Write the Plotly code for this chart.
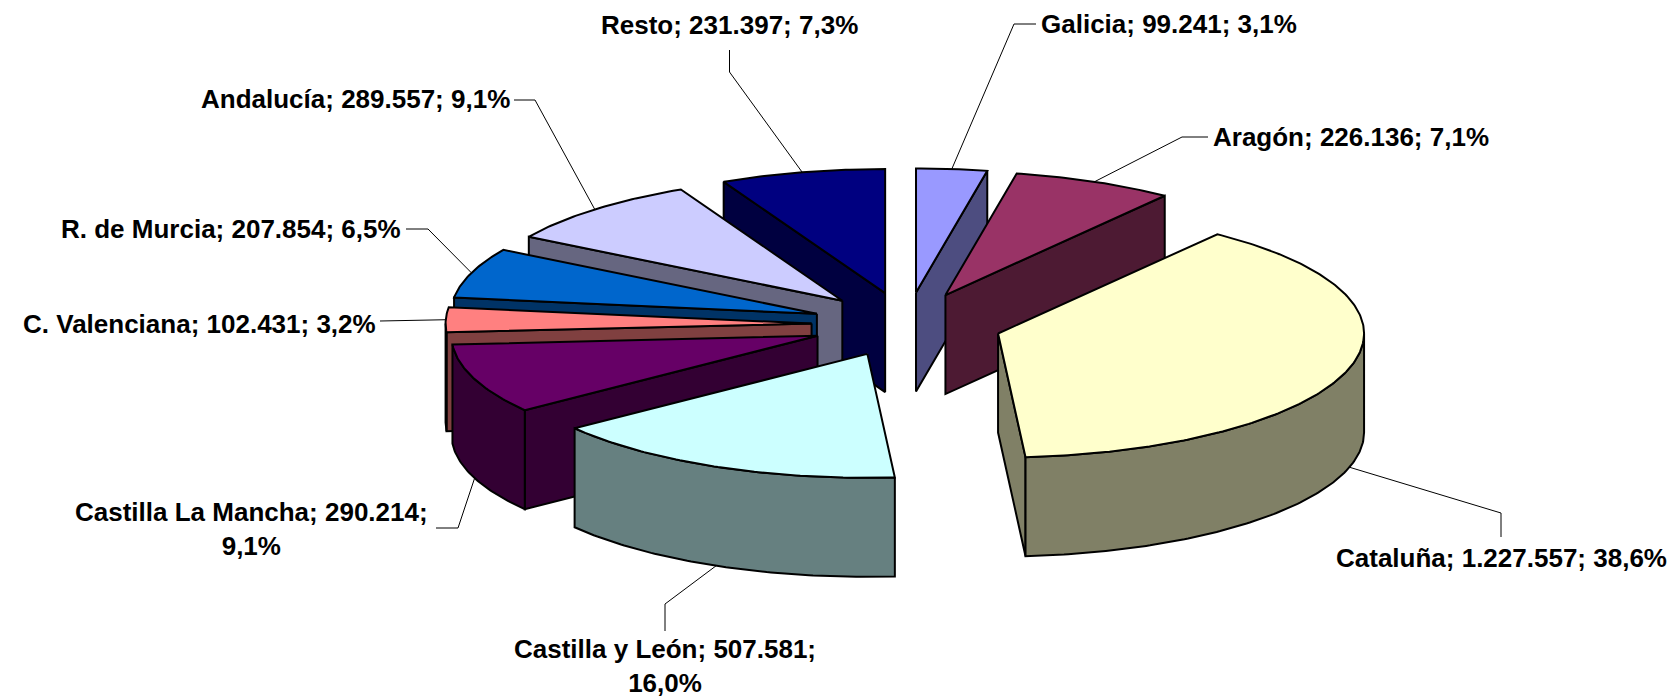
import numpy as np
import plotly.graph_objects as go

# ---------------- data ----------------
regions = ["Galicia", "Aragón", "Cataluña", "Castilla y León", "Castilla La Mancha",
           "C. Valenciana", "R. de Murcia", "Andalucía", "Resto"]
values = [99241, 226136, 1227557, 507581, 290214, 102431, 207854, 289557, 231397]
wrap_label = [False, False, False, True, True, False, False, False, False]

# ---------------- style ----------------
top_colors = ["#9999FF", "#993366", "#FFFFCC", "#CCFFFF", "#660066",
              "#FF8080", "#0066CC", "#CCCCFF", "#000080"]
side_colors = ["#4D4D80", "#4D1A33", "#808066", "#668080", "#330033",
               "#804040", "#003366", "#666680", "#000040"]

W, H = 1677, 698
CX, CY = 906.7, 324.5      # pie centre (px)
RX, RY = 366.0, 124.0      # ellipse radii (px)
DEPTH = 99.0               # thickness (px)
EXPLODE = 0.26             # fraction of radius
FONT = dict(family="Liberation Sans, Arial, sans-serif", size=26, color="black")

# label layout: text x, text y, xanchor, elbow point, end point (towards text)
label_layout = [
    (1039, 24, "left", (1014, 24), (1036, 24)),
    (1211, 137, "left", (1182, 137), (1208, 137)),
    (1501, 558, "center", (1501, 513), (1501, 537)),
    (665, 666, "center", (665, 604), (665, 631)),
    (251, 529, "center", (458, 528), (436, 528)),
    (378, 324, "right", (402, 321), (380, 321)),
    (403, 229, "right", (428, 229), (406, 229)),
    (512, 99, "right", (535, 100), (514, 100)),
    (729, 25, "center", (729.5, 72), (729.5, 50)),
]

total = sum(values)
fracs = [v / total for v in values]
cum = np.concatenate([[0], np.cumsum(fracs)]) * 360.0


def rim(theta, ox, oy, dz=0.0):
    t = np.radians(theta)
    return ox + RX * np.sin(t), oy - RY * np.cos(t) + dz


def arc(a, b, ox, oy, dz=0.0):
    n = max(int(abs(b - a) * 1.5), 4)
    th = np.linspace(a, b, n)
    x, y = rim(th, ox, oy, dz)
    return list(x), list(y)


fig = go.Figure()


def poly(xs, ys, color):
    fig.add_trace(go.Scatter(x=xs + [xs[0]], y=ys + [ys[0]], mode="lines",
                             fill="toself", fillcolor=color,
                             line=dict(color="black", width=2),
                             hoverinfo="skip", showlegend=False))


slices = []
for i in range(len(values)):
    a, b = cum[i], cum[i + 1]
    m = (a + b) / 2
    ox = CX + EXPLODE * RX * np.sin(np.radians(m))
    oy = CY - EXPLODE * RY * np.cos(np.radians(m))
    slices.append((i, a, b, m, ox, oy))

order = sorted(slices, key=lambda s: -np.cos(np.radians(s[3])))

for i, a, b, m, ox, oy in order:
    side = side_colors[i]
    # radial start wall
    if np.sin(np.radians(a)) < -1e-6:
        rx_, ry_ = rim(a, ox, oy)
        poly([ox, rx_, rx_, ox], [oy, ry_, ry_ + DEPTH, oy + DEPTH], side)
    # radial end wall
    if np.sin(np.radians(b)) > 1e-6:
        rx_, ry_ = rim(b, ox, oy)
        poly([ox, rx_, rx_, ox], [oy, ry_, ry_ + DEPTH, oy + DEPTH], side)
    # curved outer wall (front half)
    lo, hi = max(a, 90.0), min(b, 270.0)
    if hi > lo:
        tx, ty = arc(lo, hi, ox, oy)
        bx, by = arc(hi, lo, ox, oy, DEPTH)
        poly(tx + bx, ty + by, side)
    # top face
    tx, ty = arc(a, b, ox, oy)
    poly([ox] + tx, [oy] + ty, top_colors[i])

# labels and leader lines
for i, a, b, m, ox, oy in slices:
    front = 90 < m < 270
    ax_, ay_ = rim(m, ox, oy, DEPTH if front else 0.0)
    tx, ty, xa, elbow, end = label_layout[i]
    fig.add_trace(go.Scatter(x=[ax_, elbow[0], end[0]], y=[ay_, elbow[1], end[1]],
                             mode="lines", line=dict(color="black", width=1),
                             hoverinfo="skip", showlegend=False))
    val = f"{values[i]:,}".replace(",", ".")
    pct = f"{fracs[i] * 100:.1f}".replace(".", ",") + "%"
    sep = "<br>" if wrap_label[i] else " "
    text = f"<b>{regions[i]}; {val};{sep}{pct}</b>"
    fig.add_annotation(x=tx, y=ty, text=text, showarrow=False, xanchor=xa,
                       yanchor="middle", align="center", font=FONT)

fig.update_layout(
    width=W, height=H, margin=dict(l=0, r=0, t=0, b=0),
    paper_bgcolor="white", plot_bgcolor="white",
    xaxis=dict(range=[0, W], visible=False, fixedrange=True),
    yaxis=dict(range=[H, 0], visible=False, fixedrange=True),
)

fig.write_html("out.html",
               config={"displayModeBar": False, "staticPlot": True},
               post_script="document.body.style.margin='0';document.body.style.overflow='hidden';")
